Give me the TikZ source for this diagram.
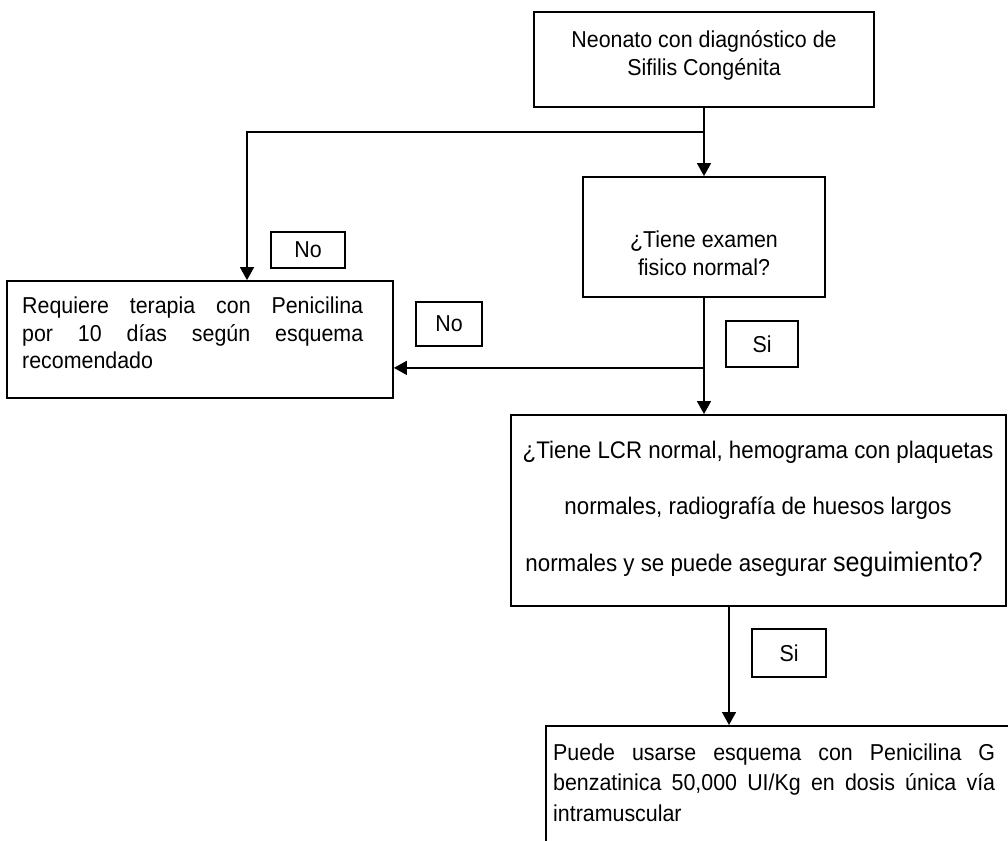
\documentclass[tikz,border=0pt]{standalone}
\usepackage{fontspec}
\setmainfont{Liberation Sans}[FakeStretch=0.93]
\usetikzlibrary{arrows.meta}
\newcommand\flowfont{\fontsize{23}{28}\selectfont}
\newcommand\labsfont{\fontsize{24}{28}\selectfont}
\begin{document}
\begin{tikzpicture}[x=1pt,y=-1pt,
  box/.style={draw,line width=1.8pt,inner sep=0pt},
  txt/.style={inner sep=0pt,font=\flowfont},
  tag/.style={draw,line width=1.8pt,inner sep=0pt,font=\flowfont},
  wire/.style={line width=1.5pt},
  arrow/.style={wire,-{Triangle[width=14pt,length=13pt]}}]
\clip (0,0) rectangle (1008,840);
\fill[white] (0,0) rectangle (1008,840);

% boxes
\node[box,minimum width=340pt,minimum height=95pt] (top) at (704,59.5) {};
\node[txt,align=center] (toptext) at (704,55) {Neonato con diagnóstico de\\Sifilis Congénita};

\node[box,minimum width=242pt,minimum height=120pt] (exam) at (704,237) {};
\node[txt,align=center] (examtext) at (704,253) {¿Tiene examen\\fisico normal?};

\node[box,minimum width=386pt,minimum height=117pt] (req) at (200,339.5) {};
\node[txt,anchor=base west] (req1) at (22,313) {\makebox[341pt][s]{Requiere terapia con Penicilina}};
\node[txt,anchor=base west] (req2) at (22,341) {\makebox[341pt][s]{por 10 días según esquema}};
\node[txt,anchor=base west] (req3) at (22,368) {recomendado};

\node[box,minimum width=495pt,minimum height=191pt] (labs) at (758.5,510.5) {};
\node[txt,font=\labsfont,anchor=base] (labs1) at (758,458) {¿Tiene LCR normal, hemograma con plaquetas};
\node[txt,font=\labsfont,anchor=base] (labs2) at (758,514) {normales, radiografía de huesos largos};
\node[txt,font=\labsfont,anchor=base] (labs3) at (754,571) {normales y se puede asegurar {\fontsize{27}{30}\selectfont seguimiento?}};

\node[box,minimum width=480pt,minimum height=140pt,anchor=north west] (dose) at (545,725) {};
\node[txt,anchor=base west] (dose1) at (553,760) {\makebox[442pt][s]{Puede usarse esquema con Penicilina G}};
\node[txt,anchor=base west] (dose2) at (553,790) {\makebox[442pt][s]{benzatinica 50,000 UI/Kg en dosis única vía}};
\node[txt,anchor=base west] (dose3) at (553,821) {intramuscular};

% answer tags
\node[tag,minimum width=74pt,minimum height=36pt] (no1) at (308,250) {No};
\node[tag,minimum width=66pt,minimum height=44pt] (no2) at (449,324) {No};
\node[tag,minimum width=72pt,minimum height=46pt] (si1) at (762,344) {Si};
\node[tag,minimum width=74pt,minimum height=48pt] (si2) at (789,653) {Si};

% connectors
\draw[wire] (top.south) -- ++(0,24) coordinate (split);
\draw[arrow] (split) -- (exam.north);
\draw[arrow] (split) -| ([xshift=47pt]req.north);
\draw[wire] (exam.south) -- ++(0,70) coordinate (fork);
\draw[arrow] (fork) -- (fork -| req.east);
\draw[arrow] (fork) -- (fork |- labs.north);
\coordinate (drop) at ([xshift=-29.5pt]labs.south);
\draw[arrow] (drop) -- (drop |- dose.north);
\end{tikzpicture}
\end{document}
